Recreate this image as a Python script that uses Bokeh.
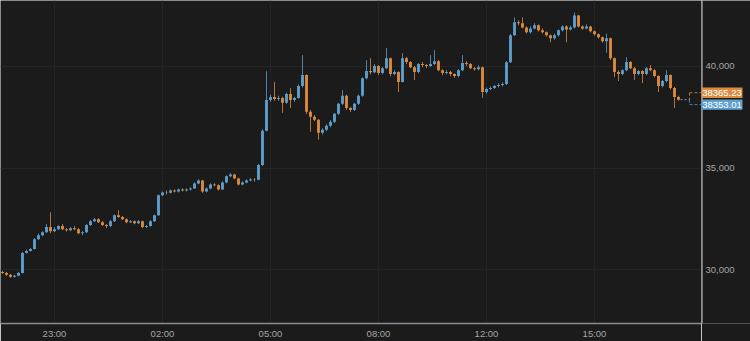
from bokeh.plotting import figure
from bokeh.layouts import row
from bokeh.models import Range1d, FixedTicker, Grid, ColumnDataSource
from bokeh.core.properties import value
from bokeh.embed import file_html
from bokeh.resources import INLINE

# ---- data ----
first_open = 29900
close = [29850, 29760, 29660, 29710, 29850, 30830, 30930, 31020, 31510, 31700,
         31850, 32100, 31900, 32000, 32150, 32000, 31950, 32050, 32000, 31800,
         31850, 32200, 32390, 32490, 32340, 32200, 32150, 32390, 32680, 32590,
         32490, 32340, 32390, 32290, 32390, 32100, 32150, 32390, 32680, 33660,
         33800, 33780, 33900, 33850, 33950, 33900, 33950, 34000, 34240, 34390,
         33850, 34000, 34190, 34150, 33950, 34290, 34590, 34680, 34490, 34190,
         34290, 34390, 34440, 34420, 35150, 36830, 38340, 38490, 38390, 38440,
         38200, 38630, 38340, 38440, 39020, 39560, 37760, 37510, 37370, 36730,
         36880, 37070, 37270, 37660, 38150, 38540, 37950, 37850, 38150, 38540,
         39410, 39760, 39700, 40000, 39660, 39900, 40390, 39610, 39710, 39220,
         40390, 40200, 39950, 39710, 40100, 40050, 40000, 40100, 40240, 39800,
         39660, 39710, 39610, 39510, 39800, 40150, 40100, 39900, 39850, 39950,
         38730, 38880, 38930, 39020, 39070, 39120, 40190, 41510, 42150, 42100,
         41900, 41660, 41850, 42000, 41760, 41660, 41510, 41370, 41510, 41760,
         41950, 41800, 41900, 42490, 41950, 41850, 41950, 41710, 41560, 41420,
         41220, 41370, 40390, 39710, 39610, 39800, 40200, 39900, 39610, 39760,
         39610, 39900, 39800, 39510, 39020, 39270, 39560, 38930, 38490, 38353.01]
high = [29950, 29900, 29800, 29760, 29900, 30880, 31000, 31080, 31560, 31780,
        31900, 32250, 32830, 32100, 32200, 32250, 32050, 32100, 32150, 32050,
        31900, 32250, 32450, 32550, 32530, 32400, 32250, 32450, 32720, 32930,
        32650, 32530, 32450, 32430, 32450, 32420, 32200, 32440, 32720, 33700,
        33850, 33900, 33950, 33950, 34000, 34000, 34000, 34050, 34300, 34450,
        34420, 34050, 34250, 34250, 34200, 34350, 34640, 34750, 34720, 34520,
        34350, 34440, 34500, 34500, 35200, 36900, 39750, 38600, 39220, 38550,
        38500, 38700, 38930, 38500, 39100, 40540, 39600, 37850, 37600, 37400,
        36950, 37150, 37350, 37700, 38200, 38830, 38600, 38000, 38200, 38600,
        39450, 40290, 40390, 40100, 40050, 39950, 40880, 40420, 39800, 39750,
        40640, 40450, 40250, 40000, 40150, 40200, 40100, 40540, 40780, 40300,
        39850, 39800, 39760, 39650, 39850, 40540, 40250, 40150, 39950, 40050,
        39980, 38950, 39000, 39080, 39150, 39200, 40250, 41580, 42390, 42250,
        42390, 41950, 41950, 42100, 42050, 41850, 41700, 41550, 41600, 41800,
        42000, 42000, 41980, 42630, 42520, 42000, 42050, 41980, 41750, 41600,
        41450, 41600, 41400, 40420, 39800, 39850, 40440, 40250, 39950, 39800,
        39800, 39950, 40050, 39850, 39550, 39320, 39800, 39600, 38980, 38550]
low = [29800, 29700, 29600, 29620, 29680, 29820, 30800, 30900, 31000, 31480,
       31650, 31820, 31800, 31850, 31950, 31950, 31880, 31900, 31950, 31750,
       31700, 31800, 32150, 32350, 32300, 32150, 32050, 32100, 32350, 32550,
       32450, 32290, 32300, 32240, 32250, 32050, 32050, 32120, 32350, 32650,
       33620, 33700, 33750, 33800, 33800, 33850, 33850, 33900, 33980, 34200,
       33780, 33800, 33950, 34100, 33900, 33920, 34250, 34550, 34450, 34150,
       34150, 34250, 34350, 34330, 34400, 35100, 36800, 38250, 38300, 38300,
       37710, 38150, 37950, 38250, 38400, 38950, 37650, 36780, 37300, 36390,
       36650, 36800, 37000, 37200, 37600, 38100, 37850, 37750, 37800, 38100,
       38500, 39350, 39600, 39650, 39560, 39600, 39850, 39500, 39550, 38730,
       39200, 40100, 39900, 39320, 39650, 39950, 39900, 39950, 40050, 39750,
       39550, 39600, 39500, 39420, 39450, 39750, 40000, 39850, 39780, 39800,
       38440, 38650, 38820, 38880, 38950, 39000, 39080, 40150, 41480, 42000,
       41850, 41600, 41600, 41800, 41700, 41600, 41450, 41170, 41300, 41450,
       41700, 41170, 41750, 41850, 41900, 41780, 41800, 41650, 41500, 41350,
       41150, 40660, 40300, 39460, 39270, 39550, 39750, 39850, 39320, 39550,
       39170, 39550, 39750, 39450, 38730, 38950, 39200, 38850, 37950, 38300]
other_last = 38365.23
tick_index = [13, 40, 67, 94, 121, 148]
tick_labels = ["23:00", "02:00", "05:00", "08:00", "12:00", "15:00"]
y_ticks = [30000, 35000, 40000]

BG = "#1b1b1b"
BLUE = "#5d9fcd"
ORANGE = "#dc8a3c"
GRID = "#252525"
TXT = "#a6a6a6"
AXIS = "#8c8c8c"
FONT = "Liberation Sans"

n = len(close)
opens = [first_open] + close[:-1]
xs = list(range(n))
cols = [BLUE if c >= o else ORANGE for o, c in zip(opens, close)]
src = ColumnDataSource(dict(x=xs, o=opens, c=close, h=high, l=low, col=cols))

FRAME_W, FRAME_H = 701, 325
SIDE_W = 750 - FRAME_W
y_range = Range1d(27370, 43220)
y0, y1 = y_range.start, y_range.end
price_per_px = (y1 - y0) / FRAME_H

# ---- main price panel ----
p = figure(width=FRAME_W, height=341, x_range=Range1d(-0.5, 174.75), y_range=y_range,
           y_axis_location=None, output_backend="svg", toolbar_location=None,
           min_border_left=0, min_border_top=0, min_border_right=0,
           min_border_bottom=341 - FRAME_H)
p.background_fill_color = BG
p.border_fill_color = BG
p.outline_line_color = None

p.segment("x", "h", "x", "l", source=src, color="col", line_width=1, line_alpha=0.8)
p.vbar(x="x", top="o", bottom="c", width=0.72, source=src, fill_color="col", line_color=None)

xa = p.xaxis[0]
xa.ticker = FixedTicker(ticks=tick_index)
xa.major_label_overrides = {t: s for t, s in zip(tick_index, tick_labels)}
xa.axis_line_color = AXIS
xa.axis_line_width = 1.5
xa.major_tick_line_color = None
xa.minor_tick_line_color = None
xa.major_tick_out = 0
xa.major_tick_in = 0
xa.major_label_text_color = TXT
xa.major_label_text_font = FONT
xa.major_label_text_font_size = "9.5px"
xa.major_label_standoff = 4

# grids: vertical at time ticks, horizontal at price ticks
for g in p.renderers + list(p.center):
    if isinstance(g, Grid):
        if g.dimension == 0:
            g.ticker = FixedTicker(ticks=tick_index)
        else:
            g.ticker = FixedTicker(ticks=y_ticks)
        g.grid_line_color = GRID
if not any(isinstance(g, Grid) and g.dimension == 1 for g in p.center):
    p.add_layout(Grid(dimension=1, ticker=FixedTicker(ticks=y_ticks), grid_line_color=GRID))

# last-price callout leader lines
last = close[-1]
y_top = last + 7 * price_per_px
y_bot = last - 5 * price_per_px
xe = p.x_range.end
xb = n - 1 + 2.75
p.segment([n - 0.5], [last], [xb], [last], line_color=BLUE, line_dash="2 2", line_width=1)
p.segment([xb, xb], [y_top, y_top], [xe, xb], [y_top, last], line_color=ORANGE,
          line_dash="3 2", line_width=1, line_alpha=0.8)
p.segment([xb, xb], [y_bot, last], [xe, xb], [y_bot, y_bot], line_color=BLUE,
          line_dash="3 2", line_width=1, line_alpha=0.8)

# ---- right price-scale panel (shares the y scale) ----
q = figure(width=SIDE_W, height=341, x_range=Range1d(0, SIDE_W), y_range=y_range,
           x_axis_location=None, y_axis_location=None, output_backend="svg",
           toolbar_location=None, min_border_left=0, min_border_top=0,
           min_border_right=0, min_border_bottom=341 - FRAME_H)
q.background_fill_color = BG
q.border_fill_color = BG
q.outline_line_color = None
for g in list(q.center):
    if isinstance(g, Grid):
        g.visible = False

q.segment([0.6], [y0], [0.6], [y1], line_color=AXIS, line_width=1.5)
q.text(x=[4] * len(y_ticks), y=y_ticks, text=[f"{t:,}" for t in y_ticks],
       text_align="left", text_baseline="middle", text_color=TXT,
       text_font=value(FONT), text_font_size="9.5px")

lab_vals = [other_last, last]
lab_y = [y_top, y_bot]
lab_col = [ORANGE, BLUE]
q.rect(x=[20.5, 20.5], y=lab_y, width=41, height=10.5 * price_per_px,
       fill_color=lab_col, line_color=None)
q.text(x=[20.5, 20.5], y=lab_y, text=[f"{v:.2f}" for v in lab_vals],
       text_align="center", text_baseline="middle", text_color="white",
       text_font=value(FONT), text_font_size="9.5px")

layout = row(p, q, spacing=0)
open("out.html", "w").write(file_html(layout, INLINE))
